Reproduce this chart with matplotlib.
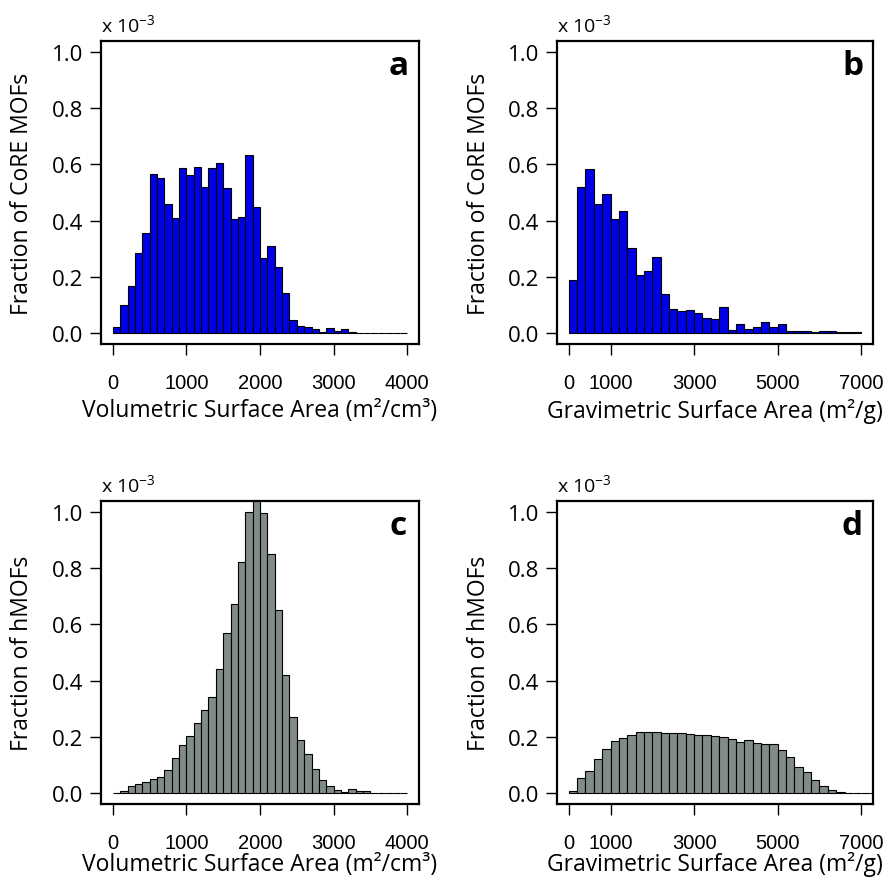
import numpy as np
import matplotlib
matplotlib.use("Agg")
import matplotlib.pyplot as plt

plt.rcParams["font.family"] = ["Open Sans", "DejaVu Sans"]
plt.rcParams["mathtext.fontset"] = "custom"
plt.rcParams["mathtext.rm"] = "Open Sans"

# Histogram densities (x 10^-3 per unit surface area)
vol_bin = 100
vol_core = [0.021, 0.100, 0.167, 0.284, 0.355, 0.566, 0.550, 0.460, 0.410, 0.587,
            0.563, 0.591, 0.520, 0.586, 0.606, 0.517, 0.405, 0.411, 0.635, 0.450,
            0.265, 0.310, 0.233, 0.141, 0.044, 0.025, 0.020, 0.013, 0.004, 0.018,
            0.006, 0.014, 0.002, 0, 0, 0, 0, 0, 0, 0]
grav_bin = 200
grav_core = [0.187, 0.521, 0.583, 0.460, 0.493, 0.407, 0.435, 0.301, 0.206, 0.220,
             0.270, 0.137, 0.083, 0.077, 0.082, 0.071, 0.052, 0.048, 0.091, 0.011,
             0.031, 0.012, 0.019, 0.037, 0.021, 0.033, 0.006, 0.007, 0.008, 0.002,
             0.005, 0.006, 0.002, 0.001, 0.001]
vol_hmof = [0, 0.006, 0.024, 0.031, 0.040, 0.050, 0.057, 0.082, 0.125, 0.170,
            0.204, 0.248, 0.294, 0.340, 0.442, 0.569, 0.673, 0.824, 1.000, 1.060,
            0.998, 0.850, 0.651, 0.420, 0.270, 0.187, 0.140, 0.086, 0.044, 0.024,
            0.011, 0.004, 0.012, 0.008, 0.007, 0, 0, 0, 0, 0]
grav_hmof = [0.008, 0.051, 0.076, 0.121, 0.157, 0.185, 0.195, 0.205, 0.218, 0.217,
             0.218, 0.214, 0.214, 0.213, 0.210, 0.207, 0.206, 0.204, 0.198, 0.190,
             0.182, 0.188, 0.177, 0.173, 0.173, 0.152, 0.126, 0.092, 0.073, 0.046,
             0.025, 0.011, 0.004, 0, 0, 0, 0]

vol_ticks = [0, 1000, 2000, 3000, 4000]
grav_ticks = [0, 1000, 3000, 5000, 7000]
y_ticks = [0.0, 0.2, 0.4, 0.6, 0.8, 1.0]

BLUE = "#0000e6"
GRAY = "#818b88"

W, H = 885, 879
fig = plt.figure(figsize=(W / 100, H / 100), dpi=100)


def panel(box, values, binw, color, xticks, xlim, xlabel, ylabel, letter, xlabel_y):
    l, t, r, b = box
    ax = fig.add_axes([l / W, 1 - b / H, (r - l) / W, (b - t) / H])
    edges = np.arange(len(values)) * binw
    ax.bar(edges, values, width=binw, align="edge", color=color,
           edgecolor="black", linewidth=0.8)
    ax.set_xlim(*xlim)
    ax.set_ylim(-0.04, 1.04)
    ax.set_xticks(xticks)
    ax.set_xticklabels([str(v) for v in xticks], fontfamily="Liberation Sans")
    ax.set_yticks(y_ticks)
    ax.set_yticklabels([f"{v:.1f}" for v in y_ticks])
    ax.tick_params(axis="x", length=8, width=1.0, pad=13, labelsize=14.5)
    ax.tick_params(axis="y", length=8, width=1.0, pad=5, labelsize=16)
    for s in ax.spines.values():
        s.set_linewidth(1.6)
    ax.set_xlabel(xlabel, fontsize=16.5, va="center")
    ax.xaxis.set_label_coords(0.5, xlabel_y)
    ax.set_ylabel(ylabel, fontsize=16.5, va="center")
    ax.yaxis.set_label_coords(-0.248, 0.5)
    ax.text(0.935, 0.92, letter, transform=ax.transAxes, ha="center", va="center",
            fontsize=24, fontweight="bold")
    ax.text(0.0, 1.055, r"x 10$^{\mathregular{-3}}$", transform=ax.transAxes,
            ha="left", va="center", fontsize=14)
    return ax


panel((101, 42, 419, 345), vol_core, vol_bin, BLUE, vol_ticks, (-160, 4160),
      "Volumetric Surface Area (m²/cm³)", "Fraction of CoRE MOFs", "a", -0.218)
panel((557, 42, 873, 345), grav_core, grav_bin, BLUE, grav_ticks, (-280, 7280),
      "Gravimetric Surface Area (m²/g)", "Fraction of CoRE MOFs", "b", -0.218)
panel((101, 502, 419, 805), vol_hmof, vol_bin, GRAY, vol_ticks, (-160, 4160),
      "Volumetric Surface Area (m²/cm³)", "Fraction of hMOFs", "c", -0.198)
panel((557, 502, 873, 805), grav_hmof, grav_bin, GRAY, grav_ticks, (-280, 7280),
      "Gravimetric Surface Area (m²/g)", "Fraction of hMOFs", "d", -0.198)

fig.savefig("out.png", dpi=100, facecolor="white")
